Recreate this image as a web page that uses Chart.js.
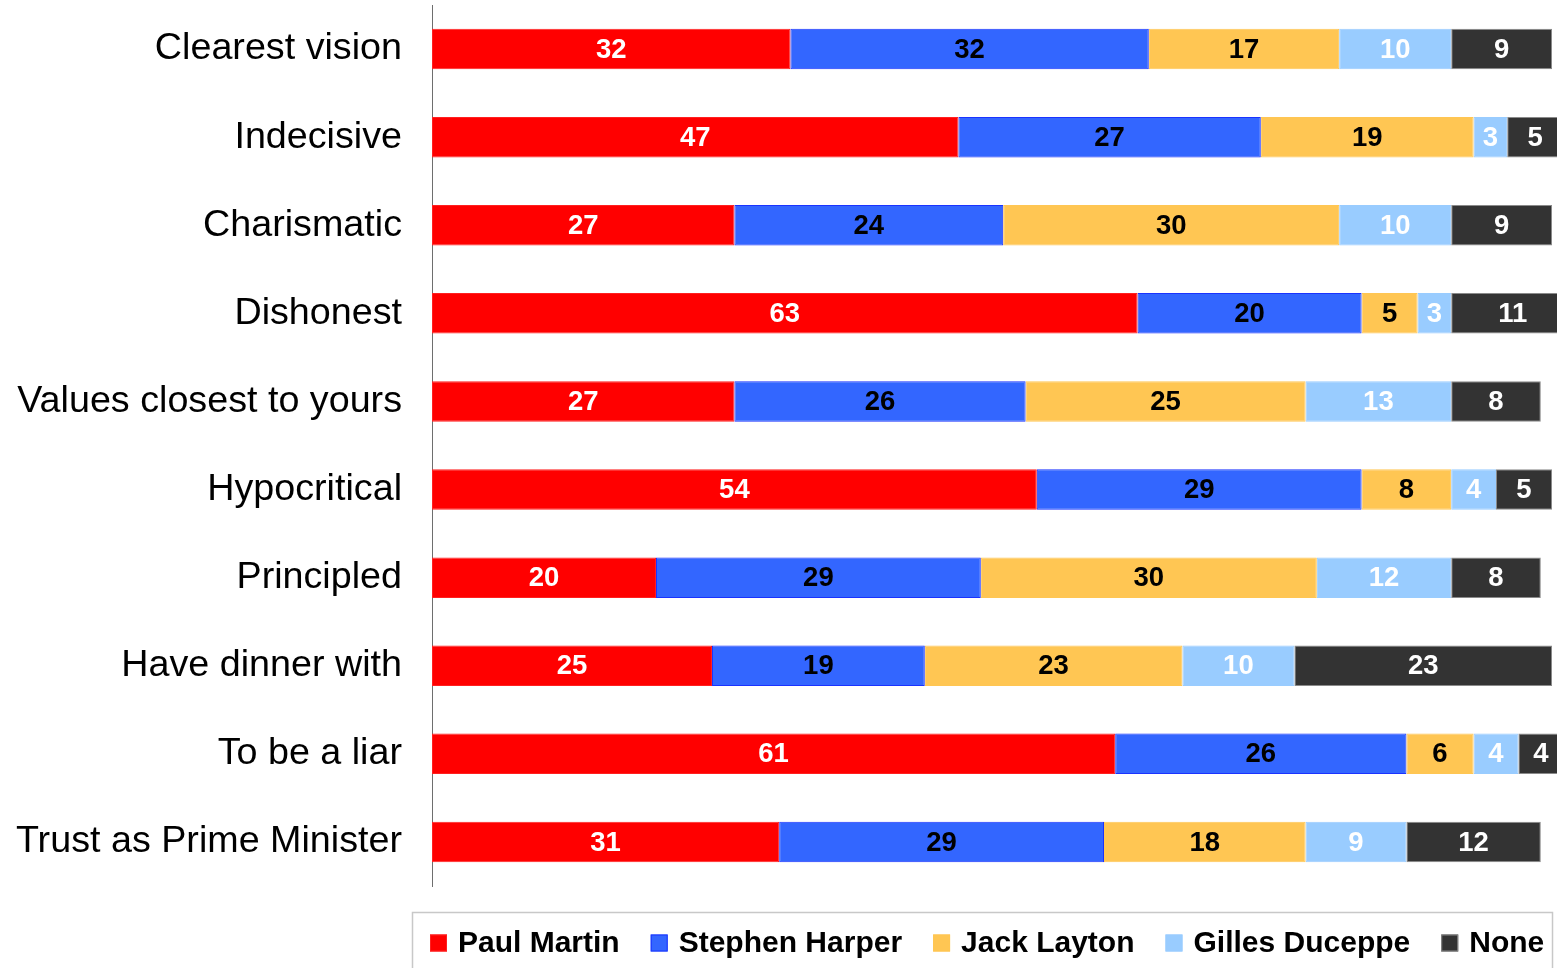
<!DOCTYPE html>
<html>
<head>
<meta charset="utf-8">
<script src="https://cdn.jsdelivr.net/npm/chart.js@4"></script>
<style>
html,body{margin:0;padding:0;background:#fff;overflow:hidden;}
canvas{display:block;}
</style>
</head>
<body>
<canvas id="c" width="1557" height="968"></canvas>
<script>
const categories = ["Clearest vision","Indecisive","Charismatic","Dishonest","Values closest to yours","Hypocritical","Principled","Have dinner with","To be a liar","Trust as Prime Minister"];
const seriesNames = ["Paul Martin","Stephen Harper","Jack Layton","Gilles Duceppe","None"];
const paulMartin    = [32,47,27,63,27,54,20,25,61,31];
const stephenHarper = [32,27,24,20,26,29,29,19,26,29];
const jackLayton    = [17,19,30, 5,25, 8,30,23, 6,18];
const gillesDuceppe = [10, 3,10, 3,13, 4,12,10, 4, 9];
const noneValues    = [ 9, 5, 9,11, 8, 5, 8,23, 4,12];

const fills   = ["#ff0000","#3366ff","#ffc653","#99ccff","#333333"];
const borders = ["#ff2020","#1a33ff","#ffc653","#99ccff","#8a8a8a"];
const labelColors = ["#ffffff","#000000","#000000","#ffffff","#ffffff"];
const seriesData = [paulMartin, stephenHarper, jackLayton, gillesDuceppe, noneValues];

const FONT = "'Liberation Sans', Arial, 'DejaVu Sans', sans-serif";

const dataLabelPlugin = {
  id: 'dataLabels',
  afterDatasetsDraw(chart) {
    const ctx = chart.ctx;
    ctx.save();
    ctx.font = "bold 27.5px " + FONT;
    ctx.textAlign = 'center';
    ctx.textBaseline = 'middle';
    chart.data.datasets.forEach((ds, di) => {
      const meta = chart.getDatasetMeta(di);
      meta.data.forEach((bar, i) => {
        const p = bar.getProps(['x','y','base'], true);
        const cx = (p.x + p.base) / 2;
        ctx.fillStyle = labelColors[di];
        ctx.fillText(String(ds.data[i]), cx, p.y + 1);
      });
    });
    ctx.restore();
  }
};

const legendPlugin = {
  id: 'customLegend',
  afterDraw(chart) {
    const ctx = chart.ctx;
    ctx.save();
    ctx.strokeStyle = '#c8c8c8';
    ctx.lineWidth = 1.5;
    ctx.strokeRect(412.5, 912.5, 1140, 70);
    ctx.font = "bold 30px " + FONT;
    ctx.textBaseline = 'middle';
    ctx.textAlign = 'left';
    let x = 430;
    const cy = 943;
    chart.data.datasets.forEach((ds, di) => {
      ctx.fillStyle = fills[di];
      ctx.fillRect(x, cy - 8.5, 17, 17);
      ctx.strokeStyle = borders[di];
      ctx.lineWidth = 1;
      ctx.strokeRect(x + 0.5, cy - 8, 16, 16);
      ctx.fillStyle = '#000';
      ctx.fillText(ds.label, x + 28, cy + 1);
      x += 28 + ctx.measureText(ds.label).width + 31;
    });
    ctx.restore();
  }
};

new Chart(document.getElementById('c'), {
  type: 'bar',
  data: {
    labels: categories,
    datasets: seriesNames.map((name, i) => ({
      label: name,
      data: seriesData[i],
      backgroundColor: fills[i],
      borderColor: borders[i],
      borderWidth: 1,
      borderSkipped: false,
      barPercentage: 1,
      categoryPercentage: 0.46,
      clip: false
    }))
  },
  options: {
    indexAxis: 'y',
    responsive: false,
    animation: false,
    devicePixelRatio: 1,
    layout: { padding: { top: 5, bottom: 82, right: 5, left: 0 } },
    plugins: { legend: { display: false }, tooltip: { enabled: false } },
    scales: {
      x: {
        stacked: true,
        min: 0,
        max: 100,
        display: false
      },
      y: {
        stacked: true,
        grid: { display: false, drawTicks: false },
        border: { display: true, color: '#6e6e6e', width: 1 },
        ticks: {
          color: '#000',
          padding: 30,
          font: { family: FONT, size: 37.7 }
        },
        afterFit(scale) {
          scale.width = 432;
          scale.paddingTop = 0;
          scale.paddingBottom = 0;
        }
      }
    }
  },
  plugins: [dataLabelPlugin, legendPlugin]
});
</script>
</body>
</html>
